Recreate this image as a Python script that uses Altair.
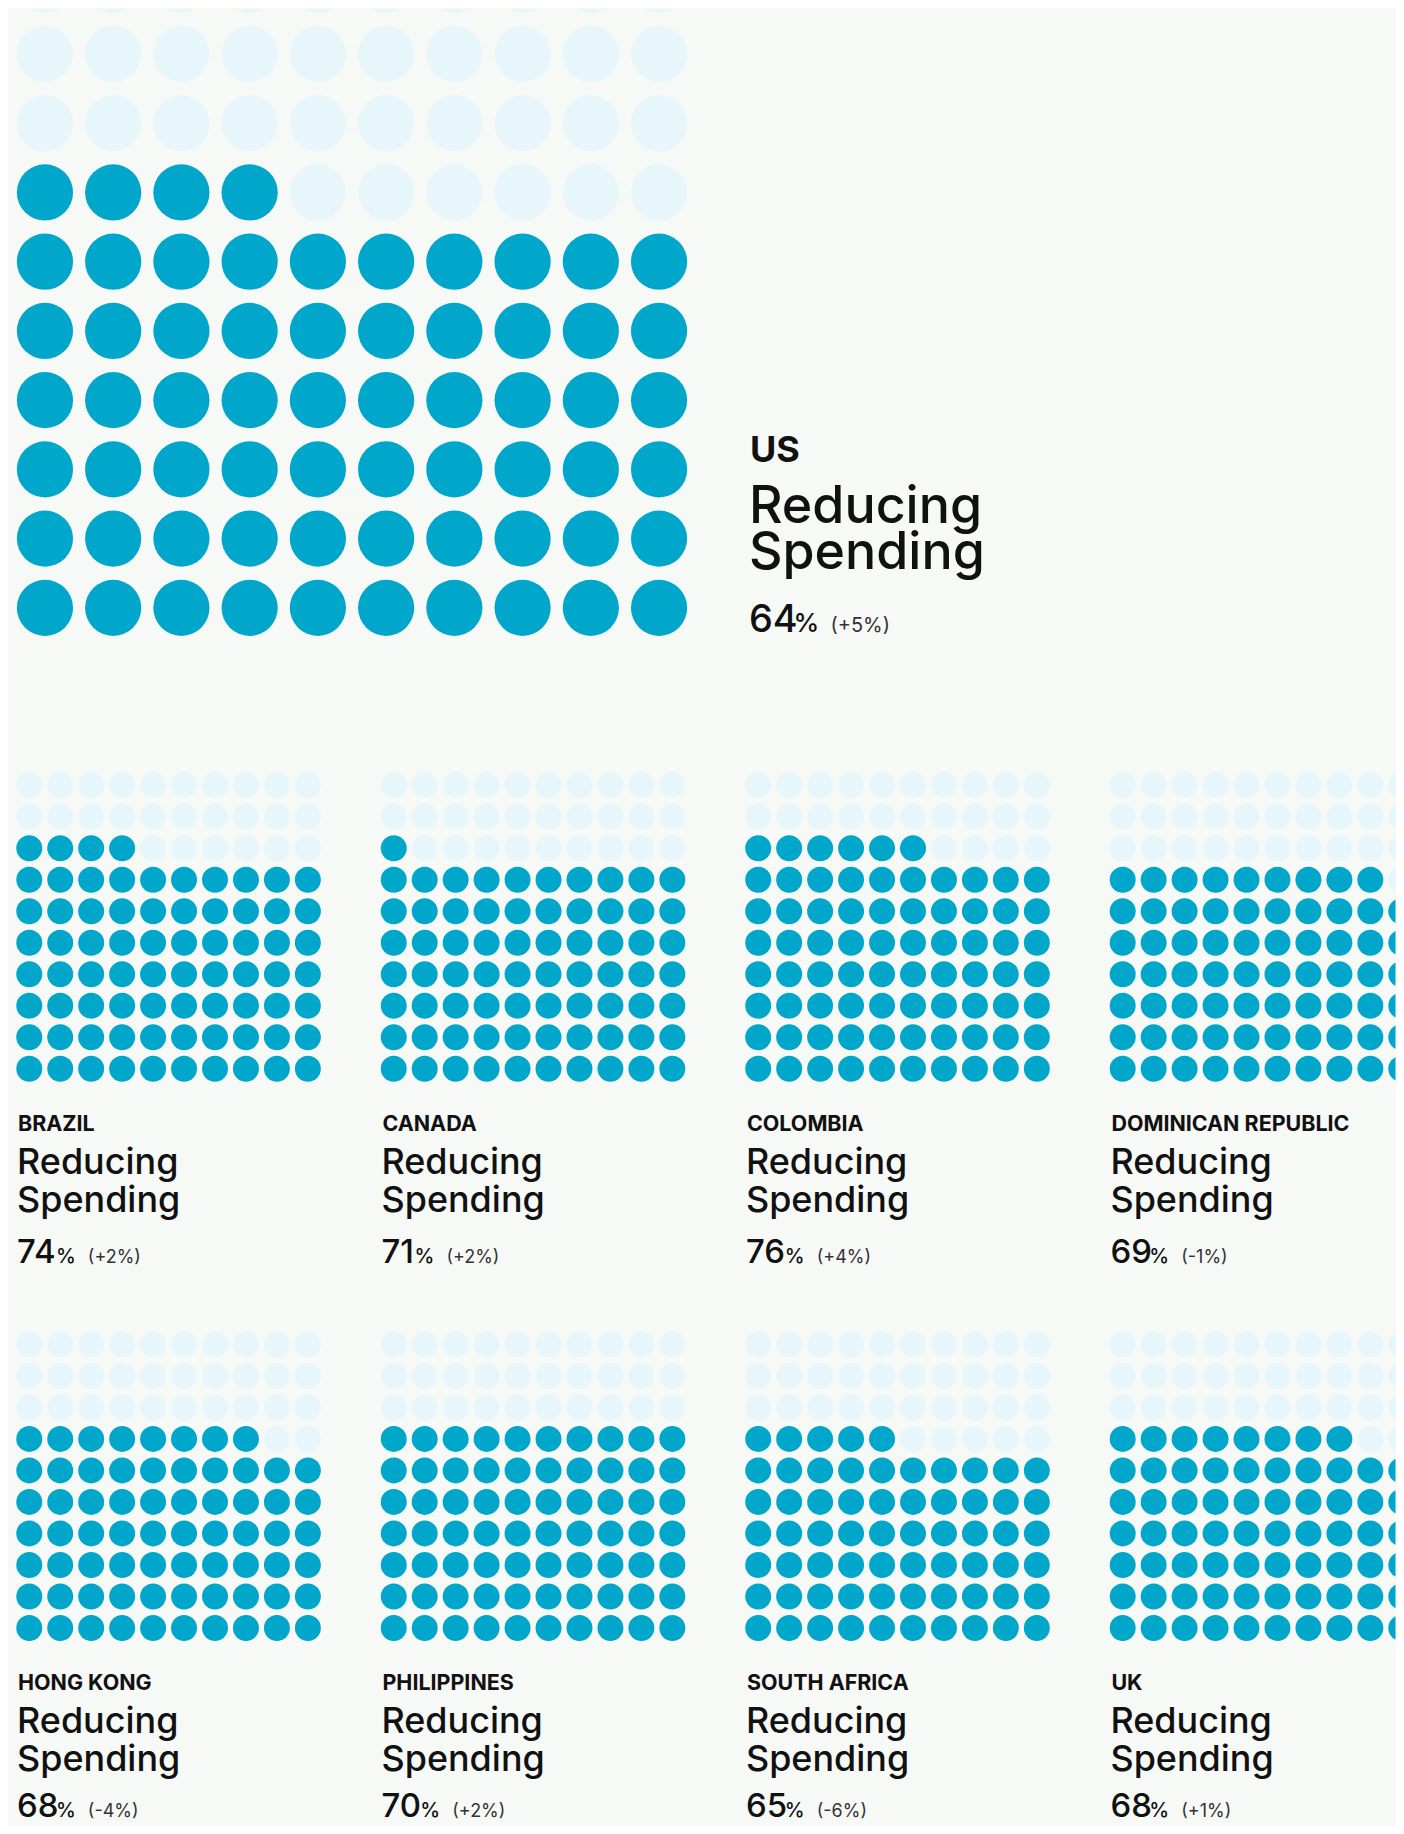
import altair as alt
import pandas as pd

# ---------------- data ----------------
main_country = "US"
main_pct = 64
main_change = "+5"

countries = ["BRAZIL", "CANADA", "COLOMBIA", "DOMINICAN REPUBLIC",
             "HONG KONG", "PHILIPPINES", "SOUTH AFRICA", "UK"]
pcts = [74, 71, 76, 69, 68, 70, 65, 68]
changes = ["+2", "+2", "+4", "-1", "-4", "+2", "-6", "+1"]
line1 = "Reducing"
line2 = "Spending"

N_COLS = 10
N_ROWS = 10

# ---------------- style ----------------
BLUE = "#00a7cb"
LIGHT = "#e6f6fb"
BG = "#f7f9f7"
INK = "#111111"
FONT = "Inter"
TOTAL_W = 1388
TOTAL_H = 1818


def waffle_df(pct):
    recs = []
    for r in range(N_ROWS):
        for c in range(N_COLS):
            k = (N_ROWS - 1 - r) * N_COLS + c
            recs.append({"row": r, "col": c, "filled": "yes" if k < pct else "no"})
    return pd.DataFrame(recs)


color_enc = alt.Color("filled:N",
                      scale=alt.Scale(domain=["yes", "no"], range=[BLUE, LIGHT]),
                      legend=None)


def label_df(name, pct, change):
    return pd.DataFrame([{"name": name, "l1": line1, "l2": line2,
                          "num": str(pct), "pc": "%", "chg": "(" + change + "%)"}])


def est_width(s, fs):
    return sum((0.38 if ch == "1" else 0.56) * fs for ch in s)


def text_layers(df, x0, ys, sizes):
    name_y, l1_y, l2_y, num_y = ys
    name_fs, main_fs, num_fs, pc_fs, chg_fs = sizes
    pc_x = x0 + est_width(df["num"].iloc[0], num_fs) + 2
    chg_x = pc_x + 0.85 * pc_fs + 15
    base = alt.Chart(df)
    return [
        base.mark_text(align="left", baseline="alphabetic", font=FONT, fontSize=name_fs,
                       fontWeight=700, color=INK).encode(
            text="name:N", x=alt.value(x0 + 1), y=alt.value(name_y)),
        base.mark_text(align="left", baseline="alphabetic", font=FONT, fontSize=main_fs,
                       fontWeight=500, color=INK).encode(
            text="l1:N", x=alt.value(x0), y=alt.value(l1_y)),
        base.mark_text(align="left", baseline="alphabetic", font=FONT, fontSize=main_fs,
                       fontWeight=500, color=INK).encode(
            text="l2:N", x=alt.value(x0), y=alt.value(l2_y)),
        base.mark_text(align="left", baseline="alphabetic", font=FONT, fontSize=num_fs,
                       fontWeight=500, color=INK).encode(
            text="num:N", x=alt.value(x0), y=alt.value(num_y)),
        base.mark_text(align="left", baseline="alphabetic", font=FONT, fontSize=pc_fs,
                       fontWeight=500, color=INK).encode(
            text="pc:N", x=alt.value(pc_x), y=alt.value(num_y)),
        base.mark_text(align="left", baseline="alphabetic", font=FONT, fontSize=chg_fs,
                       fontWeight=400, color="#333333").encode(
            text="chg:N", x=alt.value(chg_x), y=alt.value(num_y)),
    ]


# ---------------- US panel ----------------
US_H = 752
us_dots = alt.Chart(waffle_df(main_pct)).mark_circle(
    size=56.3 ** 2, opacity=1, clip=True
).encode(
    x=alt.X("col:Q", scale=alt.Scale(domain=[0, N_COLS - 1], range=[37.0, 652.0]), axis=None),
    y=alt.Y("row:Q", scale=alt.Scale(domain=[0, N_ROWS - 1], range=[-24.6, 599.4]), axis=None),
    color=color_enc,
)
us_text = text_layers(label_df(main_country, main_pct, main_change), 742,
                      (453, 514, 560, 624), (36, 52, 38, 26, 20))
us_chart = alt.layer(us_dots, *us_text).properties(width=TOTAL_W, height=US_H)


# ---------------- small panels ----------------
PANEL_W = 364.5
ROW1_H = 560
ROW2_H = TOTAL_H - US_H - ROW1_H


def small_panel(name, pct, change, width, height, num_y):
    dots = alt.Chart(waffle_df(pct)).mark_circle(size=26 ** 2, opacity=1, clip=True).encode(
        x=alt.X("col:Q", scale=alt.Scale(domain=[0, N_COLS - 1], range=[21.3, 300.3]), axis=None),
        y=alt.Y("row:Q", scale=alt.Scale(domain=[0, N_ROWS - 1], range=[25, 309]), axis=None),
        color=color_enc,
    )
    txt = text_layers(label_df(name, pct, change), 9,
                      (371, 414, 452, num_y), (21.5, 36, 33, 20, 18))
    return alt.layer(dots, *txt).properties(width=width, height=height)


def panel_row(idx, height, num_y):
    panels = []
    for j, i in enumerate(idx):
        w = PANEL_W if j < 3 else TOTAL_W - 3 * PANEL_W
        panels.append(small_panel(countries[i], pcts[i], changes[i], w, height, num_y))
    return alt.hconcat(*panels, spacing=0)


row1 = panel_row([0, 1, 2, 3], ROW1_H, 503)
row2 = panel_row([4, 5, 6, 7], ROW2_H, 498)

chart = alt.vconcat(us_chart, row1, row2, spacing=0).properties(
    padding=0, background=BG
).configure_view(stroke=None)

chart.save("out.html", embed_options={"renderer": "svg", "actions": False})
